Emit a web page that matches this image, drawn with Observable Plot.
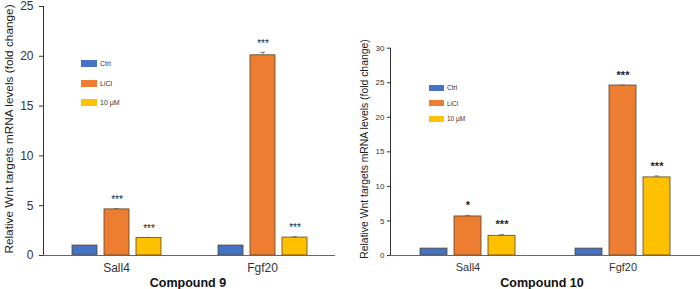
<!DOCTYPE html>
<html><head><meta charset="utf-8">
<script src="https://cdn.jsdelivr.net/npm/d3@7"></script>
<script src="https://cdn.jsdelivr.net/npm/@observablehq/plot@0.6"></script>
<style>
body{margin:0;background:#fff;font-family:"Liberation Sans",Arial,sans-serif;}
#wrap{position:relative;width:700px;height:289px;overflow:hidden;background:#fff;}
.panel{position:absolute;top:0;}
.ylab{position:absolute;white-space:nowrap;transform:translate(-50%,-50%) rotate(-90deg);color:#222;line-height:1.1;}
.comp{position:absolute;font-weight:bold;font-size:12.5px;transform:translate(-50%,-50%);white-space:nowrap;color:#111;}
.leg{position:absolute;color:#333;}
.leg div{display:flex;align-items:center;}
.leg span.sw{display:inline-block;}
#p1 g[aria-label="fx-axis tick label"]{font-size:12px;}
#p2 g[aria-label="fx-axis tick label"]{font-size:11px;}
</style></head>
<body><div id="wrap"></div>
<script>
const genes = ["Sall4", "Fgf20"];
const treatments = ["Ctrl", "LiCl", "10 µM"];
const colors = ["#4472C4", "#ED7D31", "#FFC000"];
// values ordered gene-major: Sall4 (Ctrl, LiCl, 10 µM), Fgf20 (Ctrl, LiCl, 10 µM)
const c9Values = [1, 4.63, 1.75, 1, 20.1, 1.8];
const c9Errors = [0, 0.08, 0.07, 0, 0.3, 0.08];
const c9Sig = ["", "***", "***", "", "***", "***"];
const c9Ticks = [0, 5, 10, 15, 20, 25];
const c10Values = [1, 5.65, 2.85, 1, 24.6, 11.3];
const c10Errors = [0, 0.15, 0.15, 0, 0.05, 0.2];
const c10Sig = ["", "*", "***", "", "***", "***"];
const c10Ticks = [0, 5, 10, 15, 20, 25, 30];

function table(values, errors, sig) {
  const rows = [];
  genes.forEach((g, gi) => treatments.forEach((t, ti) => {
    const i = gi * treatments.length + ti;
    rows.push({gene: g, treat: t, value: values[i], err: errors[i], sig: sig[i]});
  }));
  return rows;
}

function panel(data, opts) {
  const withErr = data.filter(d => d.err > 0);
  return Plot.plot({
    width: 350, height: 289,
    marginLeft: opts.ml, marginRight: opts.mr, marginTop: opts.mt, marginBottom: 34,
    style: {fontFamily: "Liberation Sans, Arial, sans-serif", fontSize: opts.tickFont + "px", color: "#333", background: "transparent", overflow: "visible"},
    fx: {domain: genes, padding: 0, axis: "bottom", tickSize: 0, tickPadding: opts.fxPad, label: null},
    x: {domain: treatments, paddingInner: opts.pi, paddingOuter: opts.po, axis: null},
    y: {domain: opts.ydom, ticks: opts.ticks, tickSize: opts.tickSize, tickPadding: opts.tickPad, line: true, label: null, tickFormat: d => String(d)},
    color: {domain: treatments, range: colors},
    marks: [
      Plot.barY(data, {fx: "gene", x: "treat", y: "value", fill: "treat", stroke: "#5a4528", strokeWidth: 0.8}),
      Plot.ruleX(withErr, {fx: "gene", x: "treat", y1: "value", y2: d => d.value + d.err, stroke: "#666", strokeWidth: 0.8}),
      Plot.tickY(withErr, {fx: "gene", x: "treat", y: d => d.value + d.err, stroke: "#666", strokeWidth: 0.8, insetLeft: opts.capInset, insetRight: opts.capInset}),
      Plot.text(data, {fx: "gene", x: "treat", y: d => d.value + d.err, text: "sig", dy: opts.starDy, fontSize: opts.starFont, fontWeight: opts.starWeight, fill: "#222"}),
      Plot.ruleY([0], {stroke: "#666", strokeWidth: 1})
    ]
  });
}

const wrap = document.getElementById("wrap");

const p1 = panel(table(c9Values, c9Errors, c9Sig), {
  ml: 42, mr: 15, mt: 6, ydom: [0, 25], ticks: c9Ticks, tickSize: 4, tickPad: 6, tickFont: 12,
  fxPad: 8, pi: 0.23, po: 0.85, capInset: 10, starDy: -9, starFont: 10, starWeight: "normal"
});
const p2 = panel(table(c10Values, c10Errors, c10Sig), {
  ml: 39, mr: 0, mt: 47.7, ydom: [0, 30], ticks: c10Ticks, tickSize: 3, tickPad: 3, tickFont: 8,
  fxPad: 8, pi: 0.2, po: 0.85, capInset: 11, starDy: -10, starFont: 11, starWeight: "bold"
});
[p1, p2].forEach((p, i) => {
  const d = document.createElement("div");
  d.className = "panel";
  d.id = "p" + (i + 1);
  d.style.left = (i * 350) + "px";
  d.appendChild(p);
  wrap.appendChild(d);
});

const yTitle = "Relative Wnt targets mRNA levels (fold change)";
function addDiv(cls, text, css) {
  const d = document.createElement("div");
  d.className = cls; d.textContent = text;
  Object.assign(d.style, css);
  wrap.appendChild(d);
  return d;
}
addDiv("ylab", yTitle, {left: "9px", top: "129px", fontSize: "11.8px"});
addDiv("ylab", yTitle, {left: "365px", top: "149px", fontSize: "10.4px"});
addDiv("comp", "Compound 9", {left: "188px", top: "283px"});
addDiv("comp", "Compound 10", {left: "542px", top: "283px"});

function legend(left, top, gap, sw, sh, font) {
  const L = document.createElement("div");
  L.className = "leg";
  Object.assign(L.style, {left: left + "px", top: top + "px", fontSize: font + "px"});
  treatments.forEach((t, i) => {
    const row = document.createElement("div");
    row.style.height = gap + "px";
    const s = document.createElement("span");
    s.className = "sw";
    Object.assign(s.style, {width: sw + "px", height: sh + "px", background: colors[i], marginRight: "3px"});
    row.appendChild(s);
    row.appendChild(document.createTextNode(t));
    L.appendChild(row);
  });
  wrap.appendChild(L);
}
legend(81, 54, 19.5, 16, 7, 7);
legend(429, 80, 15.5, 15, 6, 6.5);
</script></body></html>
